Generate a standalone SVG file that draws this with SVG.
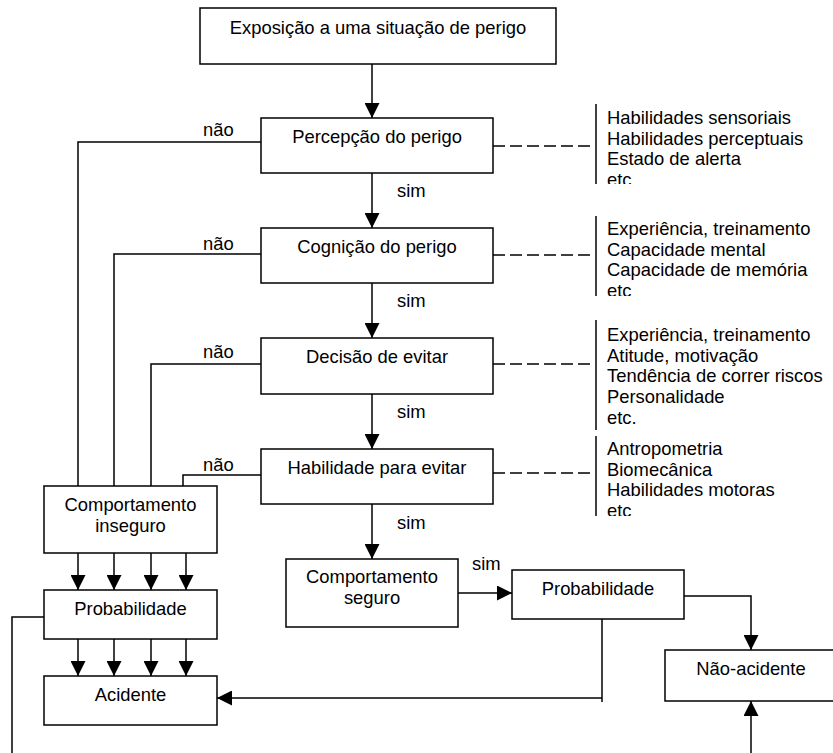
<svg xmlns="http://www.w3.org/2000/svg" width="833" height="753" viewBox="0 0 833 753">
  <style>
    .box { fill: #fff; stroke: #000; stroke-width: 1.5; }
    .t { font-family: "Liberation Sans", Arial, sans-serif; font-size: 18.4px; fill: #000; }
    .c { text-anchor: middle; }
    .ln { fill: none; stroke: #000; stroke-width: 1.5; }
    .arr { fill: none; stroke: #000; stroke-width: 1.5; marker-end: url(#head); }
    .dash { fill: none; stroke: #000; stroke-width: 1.5; stroke-dasharray: 12 5; }
  </style>
  <defs>
    <marker id="head" markerUnits="userSpaceOnUse" markerWidth="15" markerHeight="15" refX="15" refY="7.5" orient="auto">
      <path d="M0,0 L15,7.5 L0,15 z" fill="#000"/>
    </marker>
    <clipPath id="clip1"><rect x="600" y="100" width="233" height="84"/></clipPath>
    <clipPath id="clip2"><rect x="600" y="210" width="233" height="86"/></clipPath>
    <clipPath id="clip4"><rect x="600" y="430" width="233" height="86"/></clipPath>
  </defs>
  <rect width="833" height="753" fill="#fff"/>

  <!-- connectors -->
  <g id="connectors">
    <!-- main "sim" chain -->
    <path class="arr" d="M372,64 V118"/>
    <path class="arr" d="M372,173 V228"/>
    <path class="arr" d="M372,283 V338"/>
    <path class="arr" d="M372,394 V449"/>
    <path class="arr" d="M372,504 V559"/>
    <!-- "não" branches to unsafe behaviour -->
    <path class="ln" d="M261,142 H78 V486"/>
    <path class="ln" d="M261,254 H114 V486"/>
    <path class="ln" d="M261,364 H151 V486"/>
    <path class="ln" d="M261,475 H183 V486"/>
    <!-- unsafe behaviour -> probability -> accident -->
    <path class="arr" d="M78,553 V590"/>
    <path class="arr" d="M114,553 V590"/>
    <path class="arr" d="M151,553 V590"/>
    <path class="arr" d="M186,553 V590"/>
    <path class="arr" d="M78,639 V676"/>
    <path class="arr" d="M114,639 V676"/>
    <path class="arr" d="M151,639 V676"/>
    <path class="arr" d="M186,639 V676"/>
    <path class="ln" d="M44,617 H12 V753"/>
    <!-- safe behaviour branch -->
    <path class="arr" d="M458,593 H512"/>
    <path class="arr" d="M684,596 H751 V650"/>
    <path class="ln" d="M602,617 V702"/>
    <path class="arr" d="M602,698 H217"/>
    <path class="arr" d="M751,753 V701"/>
    <!-- dashed links to factor lists -->
    <path class="dash" d="M493,146 H590"/>
    <path class="dash" d="M493,255 H590"/>
    <path class="dash" d="M493,364 H590"/>
    <path class="dash" d="M493,473 H590"/>
    <!-- labels -->
    <text class="t" x="203" y="136">não</text>
    <text class="t" x="203" y="250">não</text>
    <text class="t" x="203" y="358">não</text>
    <text class="t" x="203" y="471">não</text>
    <text class="t" x="397" y="197">sim</text>
    <text class="t" x="397" y="307">sim</text>
    <text class="t" x="397" y="418">sim</text>
    <text class="t" x="397" y="529">sim</text>
    <text class="t" x="472" y="570">sim</text>
  </g>

  <g id="exposicao">
    <rect class="box" x="200" y="8" width="356" height="56"/>
    <text class="t c" x="378" y="34">Exposição a uma situação de perigo</text>
  </g>
  <g id="percepcao">
    <rect class="box" x="261" y="118" width="232" height="55"/>
    <text class="t c" x="377" y="143">Percepção do perigo</text>
  </g>
  <g id="cognicao">
    <rect class="box" x="261" y="228" width="232" height="55"/>
    <text class="t c" x="377" y="253">Cognição do perigo</text>
  </g>
  <g id="decisao">
    <rect class="box" x="261" y="338" width="232" height="56"/>
    <text class="t c" x="377" y="363">Decisão de evitar</text>
  </g>
  <g id="habilidade">
    <rect class="box" x="261" y="449" width="232" height="55"/>
    <text class="t c" x="377" y="474">Habilidade para evitar</text>
  </g>
  <g id="inseguro">
    <rect class="box" x="44" y="486" width="173" height="67"/>
    <text class="t c" x="130.5" y="511">Comportamento</text>
    <text class="t c" x="130.5" y="532">inseguro</text>
  </g>
  <g id="prob-inseguro">
    <rect class="box" x="44" y="590" width="173" height="49"/>
    <text class="t c" x="130.5" y="615">Probabilidade</text>
  </g>
  <g id="acidente">
    <rect class="box" x="44" y="676" width="173" height="49"/>
    <text class="t c" x="130.5" y="701">Acidente</text>
  </g>
  <g id="seguro">
    <rect class="box" x="286" y="559" width="172" height="68"/>
    <text class="t c" x="372" y="583">Comportamento</text>
    <text class="t c" x="372" y="604">seguro</text>
  </g>
  <g id="prob-seguro">
    <rect class="box" x="512" y="570" width="172" height="49"/>
    <text class="t c" x="598" y="595">Probabilidade</text>
  </g>
  <g id="nao-acidente">
    <rect class="box" x="665" y="650" width="175" height="51"/>
    <text class="t c" x="751" y="675">Não-acidente</text>
  </g>

  <!-- factor lists -->
  <g id="fatores-percepcao">
    <path class="ln" d="M596,104 V184" stroke-width="1.2"/>
    <g clip-path="url(#clip1)">
      <text class="t" x="607" y="124">Habilidades sensoriais</text>
      <text class="t" x="607" y="144.7">Habilidades perceptuais</text>
      <text class="t" x="607" y="165.4">Estado de alerta</text>
      <text class="t" x="607" y="186.1">etc</text>
    </g>
  </g>
  <g id="fatores-cognicao">
    <path class="ln" d="M596,216 V296" stroke-width="1.2"/>
    <g clip-path="url(#clip2)">
      <text class="t" x="607" y="235">Experiência, treinamento</text>
      <text class="t" x="607" y="255.7">Capacidade mental</text>
      <text class="t" x="607" y="276.4">Capacidade de memória</text>
      <text class="t" x="607" y="297.1">etc</text>
    </g>
  </g>
  <g id="fatores-decisao">
    <path class="ln" d="M596,320 V430" stroke-width="1.2"/>
    <text class="t" x="607" y="341">Experiência, treinamento</text>
    <text class="t" x="607" y="361.7">Atitude, motivação</text>
    <text class="t" x="607" y="382.4">Tendência de correr riscos</text>
    <text class="t" x="607" y="403.1">Personalidade</text>
    <text class="t" x="607" y="423.8">etc.</text>
  </g>
  <g id="fatores-habilidade">
    <path class="ln" d="M596,436 V516" stroke-width="1.2"/>
    <g clip-path="url(#clip4)">
      <text class="t" x="607" y="455">Antropometria</text>
      <text class="t" x="607" y="475.7">Biomecânica</text>
      <text class="t" x="607" y="496.4">Habilidades motoras</text>
      <text class="t" x="607" y="517.1">etc</text>
    </g>
  </g>
</svg>
